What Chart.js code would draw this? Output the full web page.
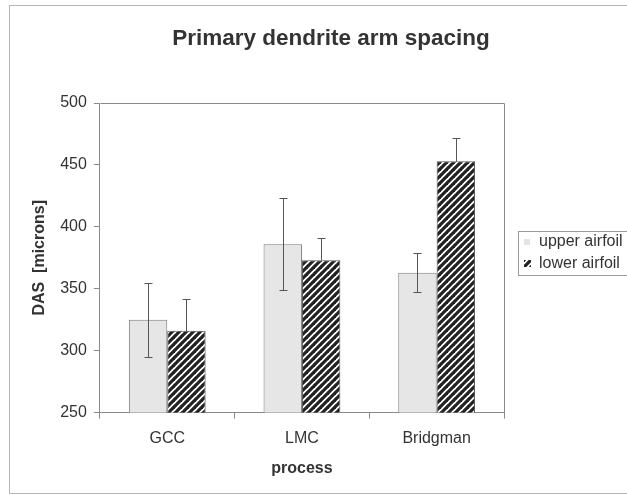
<!DOCTYPE html>
<html>
<head>
<meta charset="utf-8">
<script src="https://cdn.jsdelivr.net/npm/chart.js@4"></script>
<style>
  html, body { margin: 0; padding: 0; background: #fff; }
  #wrap { width: 627px; height: 496px; }
</style>
</head>
<body>
<div id="wrap"><canvas id="graphic" width="627" height="496"></canvas></div>
<script>
const categories = ["GCC", "LMC", "Bridgman"];
const seriesNames = ["upper airfoil", "lower airfoil"];
const upperValues = [325, 386, 363];
const upperErrors = [30, 37, 16];
const lowerValues = [316, 373, 453];
const lowerErrors = [26, 18, 19];
const yTicks = [250, 300, 350, 400, 450, 500];
const chartTitle = "Primary dendrite arm spacing";

const FONT = "'Liberation Sans', Arial, sans-serif";
const INK = "#333";
const LINE = "#8a8a8a";

// diagonal "/" hatch like the old excel pattern
function makeHatch() {
  const p = 7;
  const c = document.createElement("canvas");
  c.width = p; c.height = p;
  const g = c.getContext("2d");
  g.fillStyle = "#fff";
  g.fillRect(0, 0, p, p);
  g.strokeStyle = "#222";
  g.lineWidth = 3.2;
  for (let k = -1; k <= 1; k++) {
    g.beginPath();
    g.moveTo(k * p - 1, p + 1);
    g.lineTo(k * p + p + 1, -1);
    g.stroke();
  }
  return g.createPattern(c, "repeat");
}
const hatch = makeHatch();

const errorBars = {
  id: "errorBars",
  afterDatasetsDraw(chart) {
    const ctx = chart.ctx;
    const y = chart.scales.y;
    const sets = [
      { vals: upperValues, errs: upperErrors, both: true },
      { vals: lowerValues, errs: lowerErrors, both: false }
    ];
    ctx.save();
    ctx.strokeStyle = "#555";
    ctx.lineWidth = 1;
    sets.forEach((s, di) => {
      const meta = chart.getDatasetMeta(di);
      meta.data.forEach((bar, i) => {
        const x = Math.round(bar.x) + 0.5;
        const top = Math.round(y.getPixelForValue(s.vals[i] + s.errs[i])) + 0.5;
        const bot = s.both ? Math.round(y.getPixelForValue(s.vals[i] - s.errs[i])) + 0.5
                           : Math.round(y.getPixelForValue(s.vals[i])) + 0.5;
        ctx.beginPath();
        ctx.moveTo(x, top); ctx.lineTo(x, bot);
        ctx.moveTo(x - 4, top); ctx.lineTo(x + 4, top);
        if (s.both) { ctx.moveTo(x - 4, bot); ctx.lineTo(x + 4, bot); }
        ctx.stroke();
      });
    });
    ctx.restore();
  }
};

const frame = {
  id: "frame",
  beforeDraw(chart) {
    const ctx = chart.ctx;
    ctx.save();
    ctx.fillStyle = "#fff";
    ctx.fillRect(0, 0, chart.width, chart.height);
    ctx.strokeStyle = "#b5b5b5";
    ctx.lineWidth = 1;
    ctx.strokeRect(9.5, 5.5, 640, 488);
    ctx.restore();
  },
  afterDraw(chart) {
    const ctx = chart.ctx;
    const a = chart.chartArea;
    ctx.save();
    ctx.strokeStyle = LINE;
    ctx.lineWidth = 1;
    ctx.beginPath();
    ctx.moveTo(Math.round(a.left) + 0.5, Math.round(a.top) + 0.5);
    ctx.lineTo(Math.round(a.right) + 0.5, Math.round(a.top) + 0.5);
    ctx.lineTo(Math.round(a.right) + 0.5, Math.round(a.bottom) + 0.5);
    ctx.stroke();

    // title sits a bit right of the page centre in the original
    ctx.fillStyle = INK;
    ctx.font = "bold 22.5px " + FONT;
    ctx.textAlign = "center";
    ctx.textBaseline = "middle";
    ctx.fillText(chartTitle, 331, 39);

    // legend box
    ctx.textAlign = "left";
    ctx.strokeStyle = "#999";
    ctx.strokeRect(518.5, 231.5, 130, 44);
    ctx.fillStyle = "#e4e4e4";
    ctx.fillRect(524, 239, 6, 6);
    ctx.fillStyle = hatch;
    ctx.fillRect(524, 260, 7, 7);
    ctx.fillStyle = INK;
    ctx.font = "16px " + FONT;
    ctx.fillText(seriesNames[0], 539, 242);
    ctx.fillText(seriesNames[1], 539, 264);
    ctx.restore();
  }
};

new Chart(document.getElementById("graphic").getContext("2d"), {
  type: "bar",
  data: {
    labels: categories,
    datasets: [
      {
        label: seriesNames[0],
        data: upperValues,
        backgroundColor: "#e6e6e6",
        borderColor: "#7a7a7a",
        borderWidth: 1,
        categoryPercentage: 0.57,
        barPercentage: 1
      },
      {
        label: seriesNames[1],
        data: lowerValues,
        backgroundColor: hatch,
        borderColor: "#555",
        borderWidth: 1,
        categoryPercentage: 0.57,
        barPercentage: 1
      }
    ]
  },
  options: {
    responsive: false,
    animation: false,
    layout: { padding: { left: 30, right: 123, top: 103, bottom: 18 } },
    plugins: {
      legend: { display: false },
      tooltip: { enabled: false },
      title: { display: false }
    },
    scales: {
      x: {
        grid: { drawOnChartArea: false, color: LINE, tickLength: 6, offset: true },
        border: { color: LINE },
        ticks: { color: INK, padding: 10, font: { family: FONT, size: 16 } },
        title: {
          display: true,
          text: "process",
          color: INK,
          font: { family: FONT, size: 16, weight: "bold" },
          padding: { top: 1, bottom: 0 }
        }
      },
      y: {
        min: yTicks[0],
        max: yTicks[yTicks.length - 1],
        afterBuildTicks(scale) { scale.ticks = yTicks.map(v => ({ value: v })); },
        grid: { drawOnChartArea: false, color: LINE, tickLength: 6 },
        border: { color: LINE },
        ticks: { color: INK, padding: 7, font: { family: FONT, size: 16 } },
        title: {
          display: true,
          text: "DAS  [microns]",
          color: INK,
          font: { family: FONT, size: 16, weight: "bold" },
          padding: { top: 0, bottom: 4 }
        }
      }
    }
  },
  plugins: [frame, errorBars]
});
</script>
</body>
</html>
